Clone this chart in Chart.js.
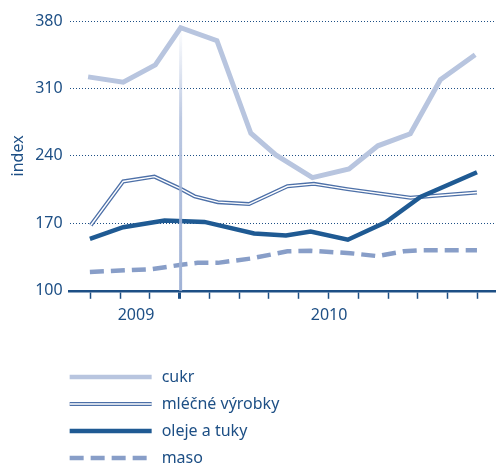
<!DOCTYPE html>
<html>
<head>
<meta charset="utf-8">
<script src="https://cdn.jsdelivr.net/npm/chart.js"></script>
<style>
html, body { margin: 0; padding: 0; background: #fff; }
#wrap { width: 496px; height: 465px; }
</style>
</head>
<body>
<div id="wrap"><canvas id="myChart"></canvas></div>
<script>
var seriesNames = ["cukr", "mléčné výrobky", "oleje a tuky", "maso"];
var yearLabels = ["2009", "2010"];
var yearPos = [1.53, 8.02];
var yTicks = [100, 170, 240, 310, 380];
var xTicks = [0, 1, 2, 3, 4, 5, 6, 7, 8, 9, 10, 11, 12, 13];

// x is in tick units (0 = first tick mark)
var cukrX = [-0.08, 1.10, 2.18, 3.03, 4.25, 5.39, 6.23, 7.46, 8.69, 9.66, 10.75, 11.76, 12.93];
var cukrY = [322, 316.5, 334.5, 373, 359.5, 263.5, 241, 217.5, 226.5, 250.5, 263, 319, 345];

var mlecneX = [0.01, 1.10, 2.15, 3.05, 3.50, 4.28, 5.33, 6.62, 7.51, 8.63, 10.75, 12.99];
var mlecneY = [168, 213.5, 218.5, 205.5, 198, 192, 190, 208.5, 211, 205.5, 196.5, 202];

var olejeX = [-0.02, 1.10, 2.49, 3.83, 5.50, 6.57, 7.40, 8.65, 9.92, 11.09, 12.99];
var olejeY = [154, 166, 173, 171.5, 159.5, 157.5, 161.5, 153, 171, 197.5, 223];

var masoX = [-0.02, 1.00, 2.05, 3.05, 3.60, 4.28, 5.39, 6.62, 7.40, 8.74, 9.64, 10.53, 11.09, 12.99];
var masoY = [119.5, 121, 122.5, 127, 129, 129, 133.5, 141, 141.5, 139, 136, 141, 142, 142];

var textColor = "#1d4f85";
var colors = ["#b8c5df", "#4d70a8", "#1f5a93", "#889ec8"];

function pts(xs, ys) {
  return xs.map(function (x, i) { return { x: x, y: ys[i] }; });
}

var legendPlugin = {
  id: "rowLegend",
  afterDraw: function (chart) {
    var ctx = chart.ctx;
    var left = chart.chartArea.left;
    var top = chart.height - 88;
    ctx.save();
    ctx.font = "16px 'Noto Sans'";
    ctx.textBaseline = "middle";
    ctx.fillStyle = textColor;
    seriesNames.forEach(function (name, i) {
      var y = top + i * 27;
      ctx.lineCap = "butt";
      ctx.setLineDash(i === 3 ? [14, 7] : []);
      ctx.strokeStyle = colors[i];
      ctx.lineWidth = i === 1 ? 4 : 4.5;
      ctx.beginPath(); ctx.moveTo(left, y); ctx.lineTo(left + 82, y); ctx.stroke();
      if (i === 1) {
        ctx.strokeStyle = "#fff"; ctx.lineWidth = 1.4;
        ctx.beginPath(); ctx.moveTo(left, y); ctx.lineTo(left + 82, y); ctx.stroke();
      }
      ctx.setLineDash([]);
      ctx.fillText(name, left + 92, y);
    });
    ctx.restore();
  }
};

var markerPlugin = {
  id: "peakMarker",
  afterDatasetsDraw: function (chart) {
    var peak = Math.max.apply(null, cukrY);
    var px = cukrX[cukrY.indexOf(peak)];
    var x = chart.scales.x.getPixelForValue(px);
    var y1 = chart.scales.y.getPixelForValue(peak);
    var y2 = chart.chartArea.bottom;
    var ctx = chart.ctx;
    var g = ctx.createLinearGradient(0, y1, 0, y2);
    g.addColorStop(0, "rgba(170,186,218,0)");
    g.addColorStop(0.35, "rgba(170,186,218,0.8)");
    g.addColorStop(1, "rgba(160,178,214,1)");
    ctx.save();
    ctx.strokeStyle = g;
    ctx.lineWidth = 3;
    ctx.beginPath(); ctx.moveTo(x, y1); ctx.lineTo(x, y2); ctx.stroke();
    ctx.restore();
  }
};

new Chart("myChart", {
  type: "line",
  data: {
    datasets: [
      { label: seriesNames[2], data: pts(olejeX, olejeY), borderColor: colors[2], borderWidth: 4.5, order: 0 },
      { label: "inner", data: pts(mlecneX, mlecneY), borderColor: "#fff", borderWidth: 1.4, order: 1 },
      { label: seriesNames[1], data: pts(mlecneX, mlecneY), borderColor: colors[1], borderWidth: 4, order: 2 },
      { label: seriesNames[3], data: pts(masoX, masoY), borderColor: colors[3], borderWidth: 4.5, borderDash: [14, 7], order: 3 },
      { label: seriesNames[0], data: pts(cukrX, cukrY), borderColor: colors[0], borderWidth: 5, order: 4 }
    ]
  },
  options: {
    responsive: true,
    maintainAspectRatio: false,
    animation: false,
    elements: { point: { radius: 0 }, line: { tension: 0, fill: false } },
    layout: { padding: { top: 21, right: 0, bottom: 133, left: 1 } },
    plugins: { legend: { display: false }, tooltip: { enabled: false } },
    scales: {
      x: {
        type: "linear", position: "bottom", min: -0.7, max: 13.63,
        afterBuildTicks: function (axis) { axis.ticks = xTicks.map(function (v) { return { value: v }; }); },
        ticks: { display: false },
        grid: {
          drawOnChartArea: false, drawTicks: true, tickLength: 8, color: textColor,
          tickWidth: function (c) { return c.tick && c.tick.value === 3 ? 3 : 1.5; }
        },
        border: { display: true, color: textColor, width: 2.5 }
      },
      x2: {
        type: "linear", position: "bottom", min: -0.7, max: 13.63,
        afterBuildTicks: function (axis) { axis.ticks = yearPos.map(function (v) { return { value: v }; }); },
        ticks: {
          autoSkip: false, maxRotation: 0, padding: 7, color: textColor,
          font: { family: "Noto Sans", size: 16 },
          callback: function (v, i) { return yearLabels[i]; }
        },
        grid: { display: false, drawTicks: false },
        border: { display: false }
      },
      y: {
        min: 100, max: 380,
        afterBuildTicks: function (axis) { axis.ticks = yTicks.map(function (v) { return { value: v }; }); },
        ticks: { padding: 7, color: textColor, font: { family: "Noto Sans", size: 16 } },
        grid: { color: textColor, lineWidth: 1, drawTicks: false },
        border: { display: false, dash: [1, 2] },
        title: { display: true, text: "index", color: textColor, font: { family: "Noto Sans", size: 16 }, padding: { top: 8, bottom: 0 } }
      }
    }
  },
  plugins: [markerPlugin, legendPlugin]
});
</script>
</body>
</html>
